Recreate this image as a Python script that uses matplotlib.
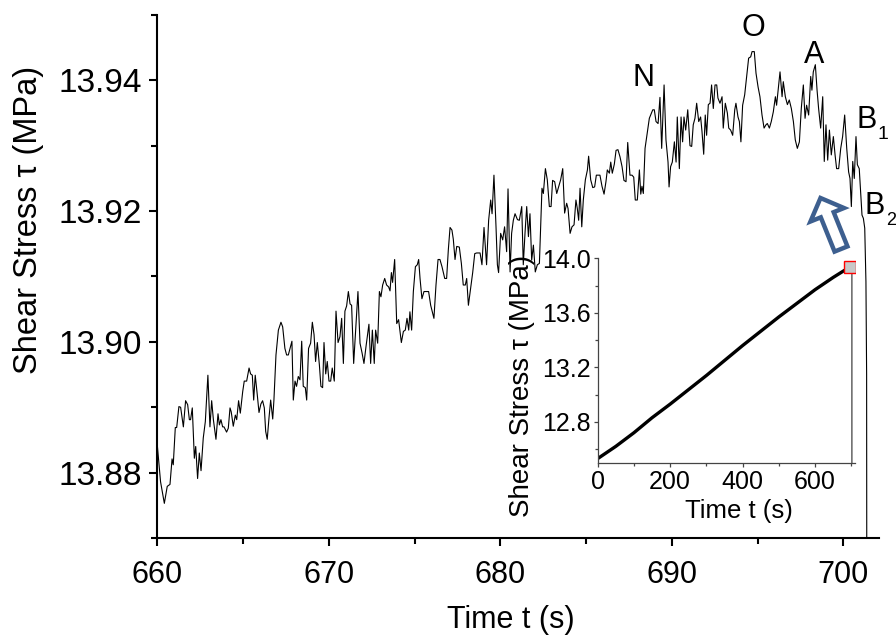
import matplotlib
matplotlib.use("Agg")
import matplotlib.pyplot as plt
from matplotlib.patches import FancyArrowPatch
from matplotlib.ticker import MultipleLocator

plt.rcParams['font.family'] = ['Liberation Sans', 'DejaVu Sans']

# main trace (time in s, shear stress in MPa)
time_s = [
    660.00, 660.19, 660.41, 660.58, 660.74, 660.86, 660.93, 661.05, 661.13, 661.26,
    661.36, 661.52, 661.65, 661.77, 661.87, 661.94, 662.04, 662.16, 662.24, 662.35,
    662.45, 662.55, 662.68, 662.80, 662.95, 663.07, 663.17, 663.27, 663.42, 663.54,
    663.62, 663.71, 663.81, 663.89, 664.04, 664.14, 664.24, 664.31, 664.43, 664.55,
    664.63, 664.74, 664.84, 664.98, 665.07, 665.21, 665.35, 665.44, 665.54, 665.62,
    665.71, 665.83, 665.93, 666.04, 666.14, 666.24, 666.32, 666.41, 666.51, 666.61,
    666.73, 666.80, 666.92, 667.06, 667.21, 667.31, 667.44, 667.54, 667.64, 667.74,
    667.85, 667.93, 668.03, 668.12, 668.22, 668.32, 668.42, 668.51, 668.63, 668.71,
    668.82, 668.94, 669.04, 669.14, 669.23, 669.33, 669.45, 669.54, 669.64, 669.72,
    669.82, 669.91, 670.01, 670.11, 670.20, 670.32,
    670.42, 670.54, 670.65, 670.75, 670.85, 670.94, 671.04, 671.14, 671.24, 671.33,
    671.45, 671.59, 671.70, 671.82, 671.94, 672.05, 672.17, 672.34, 672.44, 672.54,
    672.65, 672.73, 672.85, 672.95, 673.04, 673.14, 673.26, 673.37, 673.49, 673.57,
    673.65, 673.72, 673.84, 673.96, 674.07, 674.23, 674.35, 674.46, 674.56, 674.66,
    674.73, 674.83, 674.93, 675.05, 675.16, 675.24, 675.32, 675.43, 675.55, 675.71,
    675.82, 675.94, 676.13, 676.25, 676.37, 676.48, 676.60, 676.76, 676.87, 676.97,
    677.07, 677.18, 677.26, 677.36, 677.46, 677.61, 677.73, 677.84, 677.96, 678.04,
    678.14, 678.27, 678.39, 678.51, 678.62, 678.82, 678.93, 679.05, 679.20, 679.32,
    679.44, 679.52, 679.63, 679.75, 679.83, 679.90, 680.02, 680.14, 680.25, 680.37,
    680.45, 680.57,
    680.66, 680.76, 680.86, 681.00, 681.11, 681.25, 681.34, 681.44, 681.54, 681.64,
    681.73, 681.83, 681.93, 682.04, 682.16, 682.28, 682.43, 682.51, 682.63, 682.74,
    682.86, 682.96, 683.05, 683.17, 683.29, 683.40, 683.52, 683.64, 683.75, 683.87,
    683.95, 684.07, 684.18, 684.30, 684.41, 684.49, 684.57, 684.65, 684.75, 684.84,
    684.96, 685.08, 685.15, 685.27, 685.39, 685.50, 685.60, 685.72, 685.81, 685.93,
    686.05, 686.16, 686.24, 686.36, 686.44, 686.53, 686.65, 686.75, 686.86, 686.98,
    687.10, 687.21, 687.33, 687.43, 687.56, 687.68, 687.78, 687.87, 687.99, 688.11,
    688.19, 688.26, 688.34, 688.44, 688.54, 688.69, 688.89, 688.98, 689.08, 689.20,
    689.31, 689.41, 689.55, 689.66, 689.78, 689.84, 689.93, 690.03, 690.15, 690.25,
    690.32, 690.44, 690.54, 690.63, 690.71, 690.81, 690.93,
    691.06, 691.16, 691.25, 691.35, 691.45, 691.57, 691.68, 691.76, 691.86, 691.95,
    692.03, 692.13, 692.23, 692.32, 692.42, 692.52, 692.62, 692.69, 692.81, 692.93,
    693.00, 693.12, 693.24, 693.32, 693.43, 693.55, 693.67, 693.74, 693.86, 693.94,
    694.03, 694.13, 694.25, 694.37, 694.48, 694.60, 694.68, 694.81, 694.91, 695.03,
    695.14, 695.26, 695.38, 695.49, 695.57, 695.69, 695.80, 695.92, 696.04, 696.11,
    696.23, 696.31, 696.43, 696.50, 696.62, 696.74, 696.85, 696.97, 697.09, 697.20,
    697.32, 697.44, 697.55, 697.67, 697.77, 697.86, 697.98, 698.10, 698.17, 698.25,
    698.37, 698.47, 698.56, 698.68, 698.80, 698.89, 698.99, 699.09, 699.19, 699.30,
    699.42, 699.52, 699.61, 699.73, 699.85, 699.96, 700.08, 700.20, 700.31, 700.39,
    700.47, 700.55, 700.64, 700.74, 700.82, 700.93, 701.01, 701.09, 701.17, 701.25,
    701.32, 701.36, 701.37,
]

stress_mpa = [
    13.8842, 13.8786, 13.8753, 13.8779, 13.8782, 13.8821, 13.8812, 13.8869, 13.8869, 13.8901,
    13.8900, 13.8870, 13.8910, 13.8904, 13.8881, 13.8881, 13.8899, 13.8822, 13.8840, 13.8791,
    13.8830, 13.8803, 13.8853, 13.8878, 13.8949, 13.8870, 13.8910, 13.8881, 13.8851, 13.8890,
    13.8873, 13.8881, 13.8870, 13.8870, 13.8862, 13.8868, 13.8899, 13.8893, 13.8871, 13.8888,
    13.8881, 13.8910, 13.8891, 13.8924, 13.8940, 13.8940, 13.8960, 13.8951, 13.8949, 13.8911,
    13.8949, 13.8919, 13.8892, 13.8905, 13.8910, 13.8899, 13.8863, 13.8851, 13.8883, 13.8911,
    13.8882, 13.8911, 13.8980, 13.9018, 13.9030, 13.9023, 13.8990, 13.8980, 13.8980, 13.8990,
    13.9001, 13.8911, 13.8940, 13.8932, 13.8947, 13.8942, 13.9001, 13.8932, 13.8930, 13.8911,
    13.8990, 13.8998, 13.9030, 13.9011, 13.8970, 13.8999, 13.8965, 13.8932, 13.8930, 13.8999,
    13.8951, 13.8970, 13.8940, 13.8940, 13.8960, 13.8940,
    13.9047, 13.8999, 13.9008, 13.9036, 13.8967, 13.9047, 13.9055, 13.9077, 13.9058, 13.9056,
    13.8967, 13.9029, 13.9077, 13.8998, 13.8983, 13.8967, 13.8993, 13.9027, 13.8967, 13.9018,
    13.8967, 13.9018, 13.8998, 13.9077, 13.9069, 13.9087, 13.9097, 13.9087, 13.9084, 13.9078,
    13.9106, 13.9091, 13.9126, 13.9028, 13.9034, 13.8999, 13.9016, 13.9018, 13.9036, 13.9018,
    13.9046, 13.9018, 13.9077, 13.9115, 13.9118, 13.9126, 13.9097, 13.9066, 13.9077, 13.9077,
    13.9077, 13.9056, 13.9036, 13.9087, 13.9126, 13.9126, 13.9115, 13.9097, 13.9097, 13.9141,
    13.9175, 13.9171, 13.9157, 13.9126, 13.9146, 13.9145, 13.9120, 13.9087, 13.9087, 13.9097,
    13.9056, 13.9082, 13.9106, 13.9135, 13.9136, 13.9136, 13.9118, 13.9175, 13.9118, 13.9186,
    13.9217, 13.9196, 13.9255, 13.9176, 13.9118, 13.9106, 13.9166, 13.9156, 13.9176, 13.9138,
    13.9234, 13.9107,
    13.9166, 13.9186, 13.9196, 13.9187, 13.9186, 13.9207, 13.9118, 13.9166, 13.9207, 13.9161,
    13.9196, 13.9125, 13.9148, 13.9107, 13.9118, 13.9120, 13.9235, 13.9227, 13.9265, 13.9248,
    13.9207, 13.9207, 13.9247, 13.9245, 13.9227, 13.9237, 13.9248, 13.9265, 13.9197, 13.9212,
    13.9204, 13.9166, 13.9176, 13.9179, 13.9217, 13.9204, 13.9186, 13.9235, 13.9176, 13.9217,
    13.9248, 13.9263, 13.9284, 13.9248, 13.9236, 13.9237, 13.9255, 13.9255, 13.9255, 13.9238,
    13.9226, 13.9245, 13.9263, 13.9258, 13.9275, 13.9258, 13.9272, 13.9293, 13.9294, 13.9283,
    13.9268, 13.9247, 13.9245, 13.9305, 13.9255, 13.9255, 13.9252, 13.9217, 13.9217, 13.9263,
    13.9226, 13.9238, 13.9227, 13.9296, 13.9314, 13.9342, 13.9355, 13.9355, 13.9337, 13.9334,
    13.9374, 13.9296, 13.9393, 13.9309, 13.9275, 13.9237, 13.9268, 13.9275, 13.9306, 13.9275,
    13.9344, 13.9265, 13.9344, 13.9306, 13.9344, 13.9324, 13.9355,
    13.9300, 13.9299, 13.9332, 13.9342, 13.9365, 13.9337, 13.9344, 13.9322, 13.9287, 13.9347,
    13.9316, 13.9363, 13.9365, 13.9393, 13.9357, 13.9393, 13.9393, 13.9373, 13.9365, 13.9375,
    13.9327, 13.9365, 13.9350, 13.9327, 13.9324, 13.9316, 13.9355, 13.9365, 13.9344, 13.9337,
    13.9306, 13.9362, 13.9378, 13.9408, 13.9434, 13.9436, 13.9444, 13.9444, 13.9411, 13.9390,
    13.9375, 13.9347, 13.9327, 13.9332, 13.9334, 13.9327, 13.9337, 13.9352, 13.9375, 13.9362,
    13.9393, 13.9413, 13.9375, 13.9398, 13.9375, 13.9363, 13.9370, 13.9357, 13.9337, 13.9309,
    13.9296, 13.9306, 13.9357, 13.9393, 13.9342, 13.9362, 13.9347, 13.9406, 13.9385, 13.9413,
    13.9424, 13.9385, 13.9357, 13.9327, 13.9375, 13.9276, 13.9332, 13.9278, 13.9324, 13.9286,
    13.9314, 13.9286, 13.9265, 13.9265, 13.9296, 13.9314, 13.9347, 13.9296, 13.9260, 13.9250,
    13.9207, 13.9276, 13.9250, 13.9314, 13.9271, 13.9265, 13.9230, 13.9194, 13.9189, 13.9174,
    13.9092, 13.8950, 13.8600,
]

# inset: whole loading curve
inset_time = [0, 50, 100, 150, 200, 300, 400, 500, 600, 650, 680, 697]
inset_stress = [12.53, 12.62, 12.72, 12.83, 12.93, 13.14, 13.36, 13.57, 13.77, 13.86, 13.91, 13.935]
drop_time = [697, 701.4, 701.4]
drop_stress = [13.935, 13.93, 12.4]
mark_time = [697]
mark_stress = [13.936]

point_labels = ["N", "O", "A", "B", "1", "B", "2"]

W, H = 896, 643
fig = plt.figure(figsize=(W / 100, H / 100), dpi=100)


def fx(x):
    return x / W


def fy(y):
    return 1 - y / H


# main axes
ax = fig.add_axes([fx(157.3), fy(538), (878.8 - 157.3) / W, (538 - 15) / H])
ax.plot(time_s, stress_mpa, color='black', lw=0.8)
ax.set_xlim(660, 702.07)
ax.set_ylim(13.87, 13.95)
ax.xaxis.set_major_locator(MultipleLocator(10))
ax.xaxis.set_minor_locator(MultipleLocator(5))
ax.yaxis.set_major_locator(MultipleLocator(0.02))
ax.yaxis.set_minor_locator(MultipleLocator(0.01))
ax.yaxis.set_major_formatter(plt.FormatStrFormatter('%.2f'))
for s in ['top', 'right']:
    ax.spines[s].set_visible(False)
for s in ['left', 'bottom']:
    ax.spines[s].set_linewidth(1.5)
ax.tick_params(which='major', direction='out', length=6, width=1.5, pad=6)
ax.tick_params(which='minor', direction='out', length=4, width=1.5)
ax.tick_params(axis='x', which='major', labelsize=22, pad=10)
ax.tick_params(axis='y', which='major', labelsize=24, pad=5)

fig.text(fx(29), fy(220), "Shear Stress τ (MPa)", rotation=90, fontsize=23.5,
         ha='center', va='center')
fig.text(fx(511), fy(620), "Time t (s)", fontsize=22, ha='center', va='center')

# point labels
label_pos = [(643.5, 86, 22), (753, 36, 22), (814.5, 63, 22), (867, 128, 22),
             (883, 139, 14), (875, 214, 22), (891, 225, 13)]
for txt, (x, y, fs) in zip(point_labels, label_pos):
    fig.text(fx(x), fy(y), txt, fontsize=fs, ha='center', va='baseline')

# hollow arrow
arrow = FancyArrowPatch((fx(841), fy(249)), (fx(820.5), fy(198)),
                        transform=fig.transFigure,
                        arrowstyle="simple,head_length=13,head_width=26,tail_width=10",
                        mutation_scale=1, facecolor='white', edgecolor='#3d5f8f',
                        lw=3.2, shrinkA=0, shrinkB=0, joinstyle='miter')
fig.add_artist(arrow)

# inset
axi = fig.add_axes([fx(597.7), fy(462.7), (855 - 597.7) / W, (462.7 - 258.3) / H])
axi.patch.set_alpha(0)
axi.plot(inset_time, inset_stress, color='black', lw=2.4, solid_capstyle='butt')
axi.plot(drop_time, drop_stress, color='#555555', lw=1.0)
axi.plot(mark_time, mark_stress, 's', ms=8.5, mfc='#c8c8c8', mec='red', mew=1.0)
axi.set_xlim(0, 710)
axi.set_ylim(12.5, 14.0)
axi.xaxis.set_major_locator(MultipleLocator(200))
axi.xaxis.set_minor_locator(MultipleLocator(100))
axi.yaxis.set_major_locator(MultipleLocator(0.4))
axi.yaxis.set_minor_locator(MultipleLocator(0.2))
axi.yaxis.set_major_formatter(plt.FormatStrFormatter('%.1f'))
for s in ['top', 'right']:
    axi.spines[s].set_visible(False)
for s in ['left', 'bottom']:
    axi.spines[s].set_linewidth(0.9)
    axi.spines[s].set_color('#444444')
axi.tick_params(which='major', direction='out', length=3, width=0.9, color='#444444',
                labelsize=18, pad=2)
axi.tick_params(which='minor', direction='out', length=2, width=0.9, color='#444444')

fig.text(fx(521.7), fy(386), "Shear Stress τ (MPa)", rotation=90, fontsize=20,
         ha='center', va='center')
fig.text(fx(739), fy(511), "Time t (s)", fontsize=18.5, ha='center', va='center')

fig.savefig("out.png", dpi=100)
